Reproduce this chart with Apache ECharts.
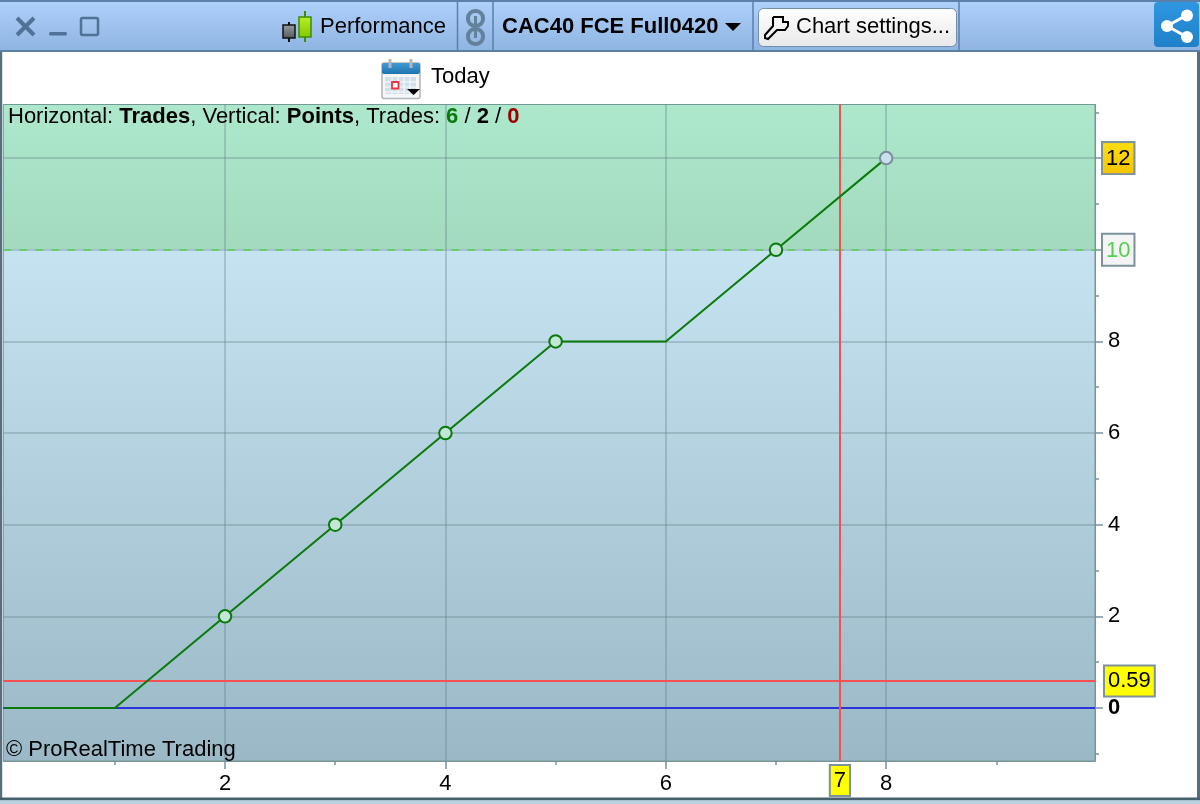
<!DOCTYPE html>
<html><head><meta charset="utf-8">
<style>html,body{margin:0;padding:0;background:#fff}#c{width:1200px;height:804px}</style>
<script src="https://cdn.jsdelivr.net/npm/echarts@6/dist/echarts.min.js"></script>
</head><body><div id="c"></div>
<script>
const trades=[0,1,2,3,4,5,6,7,8];
const points=[0,0,2,4,6,8,8,10,12];
const markedTrades=[2,3,4,5,7];
const lastTrade=8;
const xMajorTicks=[2,4,6,8];
const xMinorTicks=[1,3,5,7,9];
const yMajorTicks=[0,2,4,6,8,10,12];
const yMinorTicks=[-1,1,3,5,7,9,11,13];
const zeroLine=0, redLevel=0.59, greenLevel=10, crossX=7.58, crossLabel='7';
const xMin=-0.012,xMax=9.895,yMin=-1.157,yMax=13.17;
const F='"Liberation Sans",Arial,sans-serif';
const boundary=(yMax-greenLevel)/(yMax-yMin);
const chart=echarts.init(document.getElementById('c'),null,{renderer:'canvas'});
const line=(x1,y1,x2,y2,stroke,lineWidth)=>({type:'line',shape:{x1,y1,x2,y2},style:{stroke,lineWidth},silent:true});
const rect=(x,y,width,height,fill,extra={},r=0)=>({type:'rect',shape:{x,y,width,height,r},style:Object.assign({fill},extra),silent:true});
const txt=(x,y,text,font,fill='#000')=>({type:'text',x,y,style:{text,font,fill,textVerticalAlign:'middle'},silent:true});
const grad=(a,b)=>new echarts.graphic.LinearGradient(0,0,0,1,[{offset:0,color:a},{offset:1,color:b}]);
const dark='#5b7fa8',icon='#4f7296';
const calGrid=[];
[392,398,404,410].forEach(x=>calGrid.push(line(x,77,x,94,'#f4f6f7',1.2)));
[82,87,92].forEach(y=>calGrid.push(line(385,y,416,y,'#f4f6f7',1.2)));
const graphics=[
 rect(0,0,1200,52,grad('#aed2fc','#8fb3e0')),
 line(0,1,1200,1,dark,2), line(0,51,1200,51,dark,2),
 line(457.5,2,457.5,51,dark,1.5), line(493,2,493,51,dark,1.5), line(753,2,753,51,dark,1.5),line(959,2,959,51,dark,1.5),
 // window controls
 line(17,18,34,35,icon,4), line(34,18,17,35,icon,4),
 rect(49,32,18,3.5,icon,{},1.5),
 rect(81,18,17,17,'rgba(0,0,0,0)',{stroke:icon,lineWidth:2.5},1.5),
 // candle icons
 line(289,22,289,42,'#111',2), rect(283,25,12,13,grad('#9aa0a4','#50565a'),{stroke:'#111',lineWidth:1.5}),
 line(305,11,305,42,'#3f8c00',2), rect(299,17,12,20,grad('#b8f02a','#82c800'),{stroke:'#3f8c00',lineWidth:1.5}),
 txt(320,27,'Performance','22px '+F),
 // link icon
 rect(468,11,15,15,'rgba(0,0,0,0)',{stroke:'#64819c',lineWidth:4},7),
 rect(468,29,15,15,'rgba(0,0,0,0)',{stroke:'#64819c',lineWidth:4},7),
 line(475.5,16,475.5,24,'#64819c',3), line(475.5,31,475.5,38,'#64819c',3),
 txt(502,27,'CAC40 FCE Full0420','bold 22px '+F),
 {type:'polygon',shape:{points:[[725,23],[741,23],[733,31]]},style:{fill:'#000'},silent:true},
 // settings button
 rect(758.5,8.5,198,38,grad('#ffffff','#e8e8e8'),{stroke:'#6f8fae',lineWidth:1},5),
 {type:'polyline',shape:{points:[[773,17],[773,26],[765,35],[765,38],[768,39],[777,30],[785,30],[788,26],[788,22],[783,22],[783,17],[773,17]]},style:{fill:'none',stroke:'#000',lineWidth:2},silent:true},
 txt(796,27,'Chart settings...','22px '+F),
 // calendar
 rect(382,63,38,35.5,'#f4f6f7',{stroke:'#aeb4b8',lineWidth:1.5},2),
 rect(382,63,38,11,grad('#3f9ad6','#1f73b0'),{},2),
 rect(388.5,59,3,9,'#b5b5b5'), rect(409.5,59,3,9,'#b5b5b5'),
 rect(385,77,31,17,'#cfe0ea'),
 ...calGrid,
 rect(392,82,6.5,6.5,'#fff',{stroke:'#f03040',lineWidth:1.8}),
 {type:'polygon',shape:{points:[[407,89],[420,89],[413.5,95]]},style:{fill:'#000'},silent:true},
 txt(431,77,'Today','22px '+F),
 // info line
 {type:'text',x:8,y:117,z:50,style:{text:'{n|Horizontal: }{b|Trades}{n|, Vertical: }{b|Points}{n|, Trades: }{g|6}{n| / }{b|2}{n| / }{r|0}',verticalAlign:'middle',rich:{
   n:{font:'22px '+F,fill:'#000'},b:{font:'bold 22px '+F,fill:'#000'},g:{font:'bold 22px '+F,fill:'#0a7a0a'},r:{font:'bold 22px '+F,fill:'#a00000'}}},silent:true},
 {type:'text',x:6,y:750,z:50,style:{text:'© ProRealTime Trading',font:'22px '+F,fill:'#000',textVerticalAlign:'middle'},silent:true},
 // window frame
 rect(0,52,2.2,746,'#54707e'), rect(1197,52,3,746,'#54707e'),
 rect(0,797.5,1200,3,'#46606c'), rect(0,800.5,1200,4,'#b7d3e2'),
 // share
 rect(1154,2,45,45,grad('#2f97e0','#1f80c8'),{},4),
 line(1167,26,1187,15,'#fff',3), line(1167,26,1187,37,'#fff',3),
 {type:'circle',shape:{cx:1167,cy:26,r:6},style:{fill:'#fff'},silent:true},
 {type:'circle',shape:{cx:1187,cy:15.5,r:6},style:{fill:'#fff'},silent:true},
 {type:'circle',shape:{cx:1187,cy:37,r:6},style:{fill:'#fff'},silent:true}
];
const seriesData=trades.map((t,i)=>{
  const isLast=t===lastTrade, marked=markedTrades.includes(t);
  return {value:[t,points[i]],symbol:(marked||isLast)?'circle':'none',symbolSize:12.5,
    itemStyle:isLast?{color:'#c8dfec',borderColor:'#7d8c9c',borderWidth:2}:{color:'#c4e6d6',borderColor:'#0a7a0a',borderWidth:2}};
});
const boxLabel=(fmt,bg,pos,extra={})=>Object.assign({show:true,formatter:fmt,position:pos,color:'#000',fontSize:22,fontFamily:F,
   backgroundColor:bg,borderColor:'#7d929c',borderWidth:2,padding:[4,3,3,3]},extra);
const tickStyle={color:'#7b929c',width:1.5};
const gridStyle={color:'rgba(95,125,135,0.32)',width:2};
const option={
 animation:false,
 graphic:graphics,
 grid:{left:3.33,right:105,top:104.5,bottom:43,show:true,borderColor:'#729a96',borderWidth:1,
   backgroundColor:new echarts.graphic.LinearGradient(0,0,0,1,[
     {offset:0,color:'#ade8cd'},{offset:boundary,color:'#a3dabd'},
     {offset:boundary,color:'#c6e3f1'},{offset:1,color:'#9ab8c6'}])},
 xAxis:[{type:'value',min:xMin,max:xMax,position:'bottom',
   axisLine:{show:true,onZero:false,lineStyle:{color:'#7b929c',width:1}},
   axisTick:{show:true,length:8,lineStyle:tickStyle,customValues:xMajorTicks},
   axisLabel:{color:'#000',fontSize:22,fontFamily:F,margin:12,customValues:xMajorTicks},
   splitLine:{show:true,lineStyle:gridStyle}},
  {type:'value',min:xMin,max:xMax,position:'bottom',
   axisLine:{show:false,onZero:false},
   axisTick:{show:true,length:4,lineStyle:tickStyle,customValues:xMinorTicks},
   axisLabel:{show:false},splitLine:{show:false}}],
 yAxis:[{type:'value',min:yMin,max:yMax,position:'right',
   axisLine:{show:true,onZero:false,lineStyle:{color:'#7b929c',width:1}},
   axisTick:{show:true,length:8,lineStyle:tickStyle,customValues:yMajorTicks},
   axisLabel:{color:'#000',fontSize:22,fontFamily:F,margin:8,customValues:yMajorTicks,
     formatter:v=>{
       if(v===12)return '{gold|12}';
       if(v===10)return '{green|10}';
       if(v===0)return '{zero|0}';
       return '{p|'+v+'}';},
     rich:{gold:{fontSize:22,fontFamily:F,color:'#000',padding:[5,3,3,3],borderColor:'#7d929c',borderWidth:2,
             backgroundColor:{type:'linear',x:0,y:0,x2:0,y2:1,colorStops:[{offset:0,color:'#ffdf10'},{offset:1,color:'#f3c400'}]}},
           green:{fontSize:22,fontFamily:F,color:'#52d052',padding:[5,3,3,3],borderColor:'#7d929c',borderWidth:2,backgroundColor:'#f4f4f4'},
           zero:{fontSize:22,fontFamily:F,fontWeight:'bold',color:'#000',padding:[0,0,0,5]},
           p:{fontSize:22,fontFamily:F,color:'#000',padding:[0,0,0,5]}}},
   splitLine:{show:true,lineStyle:gridStyle}},
  {type:'value',min:yMin,max:yMax,position:'right',
   axisLine:{show:false,onZero:false},
   axisTick:{show:true,length:4,lineStyle:tickStyle,customValues:yMinorTicks},
   axisLabel:{show:false},splitLine:{show:false}}],
 series:[{
   type:'line',data:seriesData,z:5,showAllSymbol:true,xAxisIndex:0,yAxisIndex:0,
   lineStyle:{color:'#0a7a0a',width:2},
   markLine:{silent:true,symbol:'none',animation:false,z:3,data:[
     {yAxis:zeroLine,lineStyle:{color:'#2a34d8',width:2,type:'solid'},label:{show:false}},
     {yAxis:greenLevel,lineStyle:{color:'#55d055',width:1.6,type:[8,8]},label:{show:false}},
     {yAxis:redLevel,lineStyle:{color:'#f85050',width:2,type:'solid'},
       label:boxLabel(String(redLevel),'#ffff00','end',{distance:10})},
     {xAxis:crossX,lineStyle:{color:'#f85050',width:2,type:'solid'},
       label:boxLabel(crossLabel,'#ffff00','start',{distance:5})}
   ]}
 }]
};
chart.setOption(option);
</script></body></html>
